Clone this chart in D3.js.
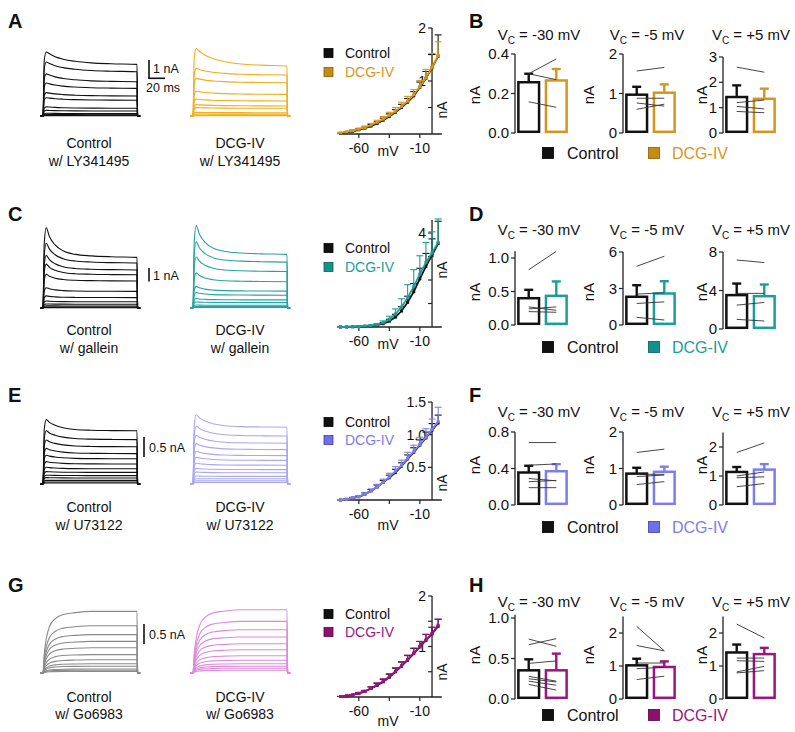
<!DOCTYPE html>
<html><head><meta charset="utf-8">
<script src="https://cdn.jsdelivr.net/npm/d3@7"></script>
<style>
body{margin:0;background:#fff}
svg{display:block}
text{font-family:"Liberation Sans",Arial,Helvetica,sans-serif;fill:#111}
</style>
</head><body>
<svg id="fig" width="795" height="732"></svg>
<script>
// ================= DATA =================
// Voltage steps (mV) of the I-V curves
const V = [-75,-70,-65,-60,-55,-50,-45,-40,-35,-30,-25,-20,-15,-10,-5,0,5];

// I-V means and SEM (nA)
const ivCtrlA = [0.01,0.03,0.05,0.08,0.11,0.15,0.20,0.26,0.33,0.41,0.50,0.60,0.72,0.88,1.05,1.25,1.47];
const ivCtrlErrA = [0.01,0.01,0.01,0.02,0.02,0.03,0.03,0.04,0.05,0.05,0.06,0.07,0.08,0.10,0.13,0.25,0.40];
const ivDcgA = [0.02,0.04,0.06,0.09,0.12,0.17,0.22,0.28,0.35,0.43,0.52,0.62,0.74,0.89,1.06,1.26,1.48];
const ivDcgErrA = [0.01,0.01,0.02,0.02,0.03,0.03,0.04,0.05,0.06,0.07,0.08,0.09,0.10,0.12,0.16,0.26,0.26];

const ivCtrlC = [0,0,0.01,0.02,0.03,0.05,0.08,0.14,0.25,0.42,0.68,1.05,1.50,2.05,2.58,3.05,3.55];
const ivCtrlErrC = [0,0,0,0.01,0.01,0.02,0.03,0.05,0.08,0.12,0.18,0.26,0.35,0.45,0.55,0.70,0.95];
const ivDcgC = [0,0.01,0.01,0.02,0.04,0.06,0.10,0.18,0.32,0.55,0.85,1.25,1.72,2.25,2.75,3.15,3.60];
const ivDcgErrC = [0,0,0.01,0.01,0.02,0.03,0.05,0.08,0.14,0.22,0.35,0.55,0.72,0.78,0.85,0.90,1.00];

const ivCtrlE = [0.0,0.01,0.03,0.05,0.09,0.14,0.20,0.27,0.34,0.42,0.52,0.63,0.73,0.84,0.95,1.07,1.18];
const ivCtrlErrE = [0,0.01,0.01,0.01,0.02,0.02,0.03,0.03,0.04,0.05,0.05,0.06,0.07,0.08,0.09,0.10,0.12];
const ivDcgE = [0.0,0.01,0.03,0.05,0.09,0.14,0.20,0.27,0.35,0.44,0.53,0.64,0.74,0.85,0.96,1.08,1.20];
const ivDcgErrE = [0,0.01,0.01,0.02,0.02,0.03,0.04,0.05,0.06,0.07,0.08,0.09,0.10,0.11,0.13,0.16,0.22];

const ivCtrlG = [0.01,0.02,0.04,0.07,0.11,0.17,0.23,0.30,0.39,0.50,0.61,0.73,0.86,0.99,1.12,1.25,1.40];
const ivCtrlErrG = [0,0.01,0.01,0.02,0.02,0.03,0.04,0.05,0.06,0.07,0.08,0.09,0.10,0.11,0.12,0.13,0.14];
const ivDcgG = [0.01,0.02,0.04,0.07,0.11,0.17,0.24,0.31,0.40,0.51,0.62,0.74,0.87,1.00,1.13,1.26,1.42];
const ivDcgErrG = [0,0.01,0.01,0.02,0.02,0.03,0.04,0.05,0.06,0.07,0.08,0.09,0.10,0.10,0.11,0.12,0.12];

// Current traces: steady-state and peak amplitude (nA) per voltage step
const trCtrlA_ss = [2.82,2.42,1.87,1.51,1.09,0.86,0.42,0.27,0.13,0.07,0.04,0.02];
const trCtrlA_pk = [3.50,2.95,2.30,1.80,1.28,1.00,0.50,0.31,0.15,0.08,0.04,0.02];
const trDcgA_ss  = [2.73,2.24,1.82,1.18,0.82,0.55,0.42,0.18,0.10,0.05,0.02];
const trDcgA_pk  = [3.68,2.60,2.05,1.35,0.92,0.62,0.46,0.20,0.11,0.05,0.02];
const trCtrlC_ss = [3.75,3.33,2.82,2.46,2.00,1.23,0.77,0.46,0.28,0.15,0.07,0.03];
const trCtrlC_pk = [5.95,4.80,3.90,3.25,2.50,1.50,0.90,0.52,0.30,0.16,0.07,0.03];
const trDcgC_ss  = [3.97,3.40,2.70,1.95,1.25,0.95,0.60,0.40,0.20,0.10,0.04];
const trDcgC_pk  = [6.10,4.90,3.80,2.60,1.60,1.15,0.70,0.45,0.22,0.10,0.04];
const trCtrlE_ss = [1.33,1.11,0.93,0.76,0.63,0.50,0.38,0.29,0.21,0.15,0.09,0.05,0.025];
const trCtrlE_pk = [1.61,1.33,1.10,0.89,0.72,0.56,0.42,0.31,0.22,0.16,0.09,0.05,0.025];
const trDcgE_ss  = [1.42,1.20,1.02,0.86,0.71,0.59,0.47,0.36,0.28,0.19,0.13,0.08,0.04];
const trDcgE_pk  = [1.73,1.45,1.22,1.01,0.82,0.67,0.52,0.39,0.30,0.20,0.13,0.08,0.04];
const trCtrlG_ss = [1.54,1.18,0.96,0.79,0.63,0.46,0.33,0.23,0.17,0.10,0.07,0.04];
const trDcgG_ss  = [1.58,1.29,1.08,0.90,0.73,0.58,0.43,0.32,0.23,0.17,0.12,0.07];
// Kinetics: time points (ms), activation and inactivation fractions
const tK = [0,1.5,4,8,15,25,40,60,85,117];
const actFast = [0,0.85,1,1,1,1,1,1,1,1];
const actSlowG = [0,0.30,0.55,0.75,0.88,0.95,0.98,1,1,1];
const inactA = [0,0.90,1,0.85,0.62,0.42,0.25,0.12,0.05,0];
const inactC = [0,0.70,1,0.70,0.42,0.22,0.10,0.05,0.02,0];
const inactE = [0,0.80,1,0.75,0.50,0.28,0.12,0.05,0.02,0];
const inactNone = [0,0,0,0,0,0,0,0,0,0];

// Bar graphs: holding potentials, means, SEM, paired cells
const vcLabels = ["-30","-5","+5"];
const barB_ctrl = [0.257,0.97,1.42], barB_ctrlErr = [0.043,0.20,0.46];
const barB_dcg  = [0.266,1.02,1.35], barB_dcgErr  = [0.058,0.21,0.40];
const pairsB = [[[0.30,0.375],[0.30,0.27],[0.158,0.13]],
                [[1.57,1.66],[0.88,0.88],[0.76,0.68],[0.60,0.73]],
                [[2.60,2.40],[1.20,1.30],[1.05,0.95],[0.85,0.80]]];
const barD_ctrl = [0.40,2.32,3.52], barD_ctrlErr = [0.125,0.95,1.20];
const barD_dcg  = [0.435,2.59,3.41], barD_dcgErr = [0.215,1.01,1.21];
const pairsD = [[[0.825,1.10],[0.27,0.22],[0.24,0.27],[0.20,0.19]],
                [[4.83,5.65],[2.54,2.65],[1.77,1.90],[0.63,0.41]],
                [[7.17,6.90],[3.70,3.70],[2.48,2.76],[1.00,0.83]]];
const barF_ctrl = [0.356,0.86,1.14], barF_ctrlErr = [0.074,0.16,0.17];
const barF_dcg  = [0.37,0.91,1.22], barF_dcgErr = [0.077,0.14,0.19];
const pairsF = [[[0.684,0.684],[0.436,0.45],[0.29,0.265],[0.255,0.27],[0.19,0.19]],
                [[1.44,1.53],[0.84,0.84],[0.78,0.82],[0.56,0.64]],
                [[1.81,2.14],[1.00,1.14],[0.94,0.97],[0.63,0.74]]];
const barH_ctrl = [0.354,1.02,1.41], barH_ctrlErr = [0.136,0.20,0.24];
const barH_dcg  = [0.354,0.97,1.36], barH_dcgErr = [0.206,0.17,0.19];
const pairsH = [[[0.67,0.745],[0.74,0.65],[0.44,0.47],[0.28,0.22],[0.25,0.21],[0.22,0.17],[0.18,0.11]],
                [[2.20,1.46],[1.62,1.46],[1.09,1.09],[0.92,0.96],[0.59,0.69]],
                [[2.27,1.85],[1.24,1.24],[1.16,1.14],[0.82,0.99],[0.79,0.86]]];

// Text
const drugs = ["w/ LY341495","w/ gallein","w/ U73122","w/ Go6983"];
const scaleLabels = ["1 nA","1 nA","0.5 nA","0.5 nA"];
const scaleValues = [1,1,0.5,0.5];

// ================= DRAW =================
const svg = d3.select("#fig");
const FONT = '"Liberation Sans",Arial,Helvetica,sans-serif';

const rows = [
 {L:"A", R:"B", letterY:28, base:116, lab:[148,166], sbar:{x:149,top:60,L:true,tx:153,ty:72},
  trCtrl:[trCtrlA_ss,trCtrlA_pk], trDcg:[trDcgA_ss,trDcgA_pk], act:actFast, inact:inactA, px:18.3,
  ctrlTrace:"#111", dcgTrace:"#f2ae1c", theme:"#d4961c", sq:"#c98a12", sqS:"#8a5c00",
  iv:{y0:134, px:53, top:2, ticks:[0.5,1,1.5,2], labels:[1,2], fmt:d=>d3.format("d")(d), leg:[53,72], nAy:110, mv:22,
      c:ivCtrlA, ce:ivCtrlErrA, d:ivDcgA, de:ivDcgErrA},
  bar:{titleY:40, bottoms:[133,133,133], topPx:[54,54,57], topVal:[0.4,2,3], axTop:[0.4,2,3],
       ticks:[[0,0.2,0.4],[0,1,2],[0,1,2,3]], fmt:[".1f","d","d"], legY:153, nAy:95,
       cm:barB_ctrl, ce:barB_ctrlErr, dm:barB_dcg, de:barB_dcgErr, pairs:pairsB}},
 {L:"C", R:"D", letterY:221, base:308, lab:[335,353], sbar:{x:149,top:268,L:false,tx:153,ty:280},
  trCtrl:[trCtrlC_ss,trCtrlC_pk], trDcg:[trDcgC_ss,trDcgC_pk], act:actFast, inact:inactC, px:13.5,
  ctrlTrace:"#111", dcgTrace:"#27a39f", theme:"#1a9e98", sq:"#12928c", sqS:"#0a5d59",
  iv:{y0:327, px:23.5, top:4.55, ticks:[1,2,3,4], labels:[4], fmt:d=>d3.format("d")(d), leg:[248,267], nAy:270, mv:22,
      c:ivCtrlC, ce:ivCtrlErrC, d:ivDcgC, de:ivDcgErrC},
  bar:{titleY:235, bottoms:[325,325,329], topPx:[258,252,252], topVal:[1,6,8], axTop:[1.1,6,8],
       ticks:[[0,0.5,1],[0,3,6],[0,4,8]], fmt:[".1f","d","d"], legY:347, nAy:292,
       cm:barD_ctrl, ce:barD_ctrlErr, dm:barD_dcg, de:barD_dcgErr, pairs:pairsD}},
 {L:"E", R:"F", letterY:402, base:484, lab:[512,530], sbar:{x:144,top:437,L:false,tx:149,ty:451},
  trCtrl:[trCtrlE_ss,trCtrlE_pk], trDcg:[trDcgE_ss,trDcgE_pk], act:actFast, inact:inactE, px:40,
  ctrlTrace:"#111", dcgTrace:"#aba7f3", theme:"#7d7deb", sq:"#6f6fec", sqS:"#3d3da8",
  iv:{y0:500, px:65.3, top:1.5, ticks:[0.5,1,1.5], labels:[0.5,1,1.5], fmt:d=>d3.format(".1f")(d), leg:[422,440], nAy:483, mv:30,
      c:ivCtrlE, ce:ivCtrlErrE, d:ivDcgE, de:ivDcgErrE},
  bar:{titleY:417, bottoms:[505,505,505], topPx:[432,432,447], topVal:[0.8,2,2], axTop:[0.8,2,2.5],
       ticks:[[0,0.4,0.8],[0,1,2],[0,1,2]], fmt:[".1f","d","d"], legY:527, nAy:465,
       cm:barF_ctrl, ce:barF_ctrlErr, dm:barF_dcg, de:barF_dcgErr, pairs:pairsF}},
 {L:"G", R:"H", letterY:592, base:673, lab:[702,719], sbar:{x:144,top:624,L:false,tx:149,ty:638},
  trCtrl:[trCtrlG_ss,trCtrlG_ss], trDcg:[trDcgG_ss,trDcgG_ss], act:actSlowG, inact:inactNone, px:40,
  ctrlTrace:"#8a8a8a", dcgTrace:"#dd8ad7", theme:"#9b1580", sq:"#8e0f72", sqS:"#55063f",
  iv:{y0:697, px:50.5, top:2, ticks:[0.5,1,1.5,2], labels:[1,2], fmt:d=>d3.format("d")(d), leg:[614,632], nAy:672, mv:29,
      c:ivCtrlG, ce:ivCtrlErrG, d:ivDcgG, de:ivDcgErrG},
  bar:{titleY:607, bottoms:[699,699,699], topPx:[618,633,633], topVal:[1,2,2], axTop:[1.04,2.5,2.5],
       ticks:[[0,0.5,1],[0,1,2],[0,1,2]], fmt:[".1f","d","d"], legY:715, nAy:655,
       cm:barH_ctrl, ce:barH_ctrlErr, dm:barH_dcg, de:barH_dcgErr, pairs:pairsH}}
];

function drawTraces(g, x0, base, px, ss, pk, act, inact, color) {
  const x = d3.scaleLinear().domain([0,117]).range([x0, x0+94]);
  const y = d3.scaleLinear().domain([0,1]).range([base, base-px]);
  const line = d3.line().x(d=>x(d[0])).y(d=>y(d[1])).curve(d3.curveMonotoneX);
  ss.forEach((s,i)=>{
    const p = pk[i];
    const pts = [[-3,0]].concat(tK.map((t,k)=>[t, k===0?0:s*act[k]+(p-s)*inact[k]]), [[117.8,0],[121,0]]);
    g.append("path").attr("d",line(pts)).attr("fill","none").attr("stroke",color).attr("stroke-width",1.1);
  });
  return {x,y};
}

function drawIV(g, r) {
  const c = r.iv;
  const x = d3.scaleLinear().domain([-75,8]).range([340.5, 441.8]);
  const y = d3.scaleLinear().domain([0,1]).range([c.y0, c.y0-c.px]);
  // axes
  g.append("line").attr("x1",x(-75)).attr("x2",x(8)).attr("y1",y(0)).attr("y2",y(0)).attr("stroke","#222").attr("stroke-width",1.3);
  [-60,-35,-10].forEach(v=>g.append("line").attr("x1",x(v)).attr("x2",x(v)).attr("y1",y(0)).attr("y2",y(0)+4).attr("stroke","#222").attr("stroke-width",1.2));
  [-60,-10].forEach(v=>g.append("text").attr("x",x(v)).attr("y",y(0)+19).attr("text-anchor","middle").attr("font-size",14).text(v));
  g.append("text").attr("x",388).attr("y",y(0)+c.mv).attr("text-anchor","middle").attr("font-size",14).text("mV");
  g.append("line").attr("x1",x(0)).attr("x2",x(0)).attr("y1",y(0)).attr("y2",y(c.top)).attr("stroke","#222").attr("stroke-width",1.3);
  c.ticks.forEach(t=>g.append("line").attr("x1",x(0)-4).attr("x2",x(0)).attr("y1",y(t)).attr("y2",y(t)).attr("stroke","#222").attr("stroke-width",1.2));
  c.labels.forEach(t=>g.append("text").attr("x",x(0)-6).attr("y",y(t)+5).attr("text-anchor","end").attr("font-size",14).text(c.fmt(t)));
  g.append("text").attr("transform",`translate(${x(0)+15},${c.nAy}) rotate(-90)`).attr("text-anchor","middle").attr("font-size",14).text("nA");
  // series
  const series = [[c.c,c.ce,"#111"],[c.d,c.de,r.theme]];
  series.forEach(([m,e,col])=>{
    V.forEach((v,i)=>{
      g.append("line").attr("x1",x(v)).attr("x2",x(v)).attr("y1",y(m[i])).attr("y2",y(m[i]+e[i])).attr("stroke",col).attr("stroke-width",1.1);
      g.append("line").attr("x1",x(v)-3.5).attr("x2",x(v)+3.5).attr("y1",y(m[i]+e[i])).attr("y2",y(m[i]+e[i])).attr("stroke",col).attr("stroke-width",1.1);
    });
    g.append("path").attr("d",d3.line().x((d,i)=>x(V[i])).y(d=>y(d))(m)).attr("fill","none").attr("stroke",col).attr("stroke-width",1.8);
    V.forEach((v,i)=>g.append("rect").attr("x",x(v)-1.5).attr("y",y(m[i])-1.5).attr("width",3).attr("height",3).attr("fill",col));
  });
  // legend
  [["Control","#111","#000"],["DCG-IV",r.sq,r.sqS]].forEach(([t,f,s],i)=>{
    g.append("rect").attr("x",324).attr("y",c.leg[i]-4.5).attr("width",9).attr("height",9).attr("fill",f).attr("stroke",s).attr("stroke-width",0.8);
    g.append("text").attr("x",345).attr("y",c.leg[i]+5).attr("font-size",14).style("fill",i?r.theme:"#111").text(t);
  });
}

function drawBars(g, r) {
  const b = r.bar;
  const axX = [515,623,723], nAx=[475,589,702], titleX=[539,647,751];
  for (let k=0;k<3;k++) {
    const y = d3.scaleLinear().domain([0,b.topVal[k]]).range([b.bottoms[k], b.topPx[k]]);
    const x = d3.scaleBand().domain(["Control","DCG-IV"]).range([axX[k]+2, axX[k]+53]).paddingInner(0.25).paddingOuter(0.05);
    const gg = g.append("g");
    // title
    const tt = gg.append("text").attr("x",titleX[k]).attr("y",b.titleY).attr("text-anchor","middle").attr("font-size",15);
    tt.append("tspan").text("V");
    tt.append("tspan").attr("dy",4).attr("font-size",10).text("C");
    tt.append("tspan").attr("dy",-4).text(" = "+vcLabels[k]+" mV");
    // axis
    gg.append("line").attr("x1",axX[k]).attr("x2",axX[k]).attr("y1",y(0)).attr("y2",y(b.axTop[k])).attr("stroke","#222").attr("stroke-width",1.3);
    b.ticks[k].forEach(t=>{
      gg.append("line").attr("x1",axX[k]-4).attr("x2",axX[k]).attr("y1",y(t)).attr("y2",y(t)).attr("stroke","#222").attr("stroke-width",1.2);
      gg.append("text").attr("x",axX[k]-6).attr("y",y(t)+5).attr("text-anchor","end").attr("font-size",15).text(d3.format(b.fmt[k])(t));
    });
    gg.append("text").attr("transform",`translate(${nAx[k]+5},${b.nAy}) rotate(-90)`).attr("text-anchor","middle").attr("font-size",15).text("nA");
    // bars
    [["Control",b.cm[k],b.ce[k],"#111"],["DCG-IV",b.dm[k],b.de[k],r.theme]].forEach(([cat,m,e,col])=>{
      const cx = x(cat)+x.bandwidth()/2;
      gg.append("line").attr("x1",cx).attr("x2",cx).attr("y1",y(m)).attr("y2",y(m+e)).attr("stroke",col).attr("stroke-width",2.4);
      gg.append("line").attr("x1",cx-4.5).attr("x2",cx+4.5).attr("y1",y(m+e)).attr("y2",y(m+e)).attr("stroke",col).attr("stroke-width",2.4);
      gg.append("rect").attr("x",x(cat)).attr("y",y(m)).attr("width",x.bandwidth()).attr("height",y(0)-y(m)-1.2)
        .attr("fill","none").attr("stroke",col).attr("stroke-width",2.5);
    });
    // paired lines
    const c1 = x("Control")+x.bandwidth()/2, c2 = x("DCG-IV")+x.bandwidth()/2;
    b.pairs[k].forEach(p=>gg.append("line").attr("x1",c1).attr("x2",c2).attr("y1",y(p[0])).attr("y2",y(p[1])).attr("stroke","#333").attr("stroke-width",0.9));
  }
  // legend
  [["Control","#111","#000",548,567],["DCG-IV",r.sq,r.sqS,654,672]].forEach(([t,f,s,sx,tx],i)=>{
    g.append("rect").attr("x",sx-5.5).attr("y",b.legY-5.5).attr("width",11).attr("height",11).attr("fill",f).attr("stroke",s).attr("stroke-width",0.8);
    g.append("text").attr("x",tx).attr("y",b.legY+6).attr("font-size",16).style("fill",i?r.theme:"#111").text(t);
  });
}

rows.forEach((r,ri)=>{
  const g = svg.append("g");
  g.append("text").attr("x",8).attr("y",r.letterY).attr("font-size",20).attr("font-weight","bold").text(r.L);
  g.append("text").attr("x",469).attr("y",r.letterY).attr("font-size",20).attr("font-weight","bold").text(r.R);
  // traces
  const tc = drawTraces(g, 43, r.base, r.px, r.trCtrl[0], r.trCtrl[1], r.act, r.inact, r.ctrlTrace);
  drawTraces(g, 193, r.base, r.px, r.trDcg[0], r.trDcg[1], r.act, r.inact, r.dcgTrace);
  // trace labels
  [["Control",89],["DCG-IV",240]].forEach(([t,cx])=>{
    g.append("text").attr("x",cx).attr("y",r.lab[0]).attr("text-anchor","middle").attr("font-size",14).text(t);
    g.append("text").attr("x",cx).attr("y",r.lab[1]).attr("text-anchor","middle").attr("font-size",14).text(drugs[ri]);
  });
  // scale bar
  const sb = r.sbar, len = tc.y(0)-tc.y(scaleValues[ri]);
  g.append("line").attr("x1",sb.x).attr("x2",sb.x).attr("y1",sb.top).attr("y2",sb.top+len).attr("stroke","#111").attr("stroke-width",1.6);
  g.append("text").attr("x",sb.tx).attr("y",sb.L? sb.top+13 : sb.top+len/2+5).attr("font-size",12.5)
    .attr("font-family",'"Liberation Sans Narrow","Arial Narrow",'+FONT).text(scaleLabels[ri]);
  if (sb.L) {
    const w = tc.x(20)-tc.x(0);
    g.append("line").attr("x1",sb.x-0.8).attr("x2",sb.x+w).attr("y1",sb.top+len).attr("y2",sb.top+len).attr("stroke","#111").attr("stroke-width",1.6);
    g.append("text").attr("x",sb.x-3).attr("y",sb.top+len+14).attr("font-size",12.5)
      .attr("font-family",'"Liberation Sans Narrow","Arial Narrow",'+FONT).text("20 ms");
  }
  drawIV(g, r);
  drawBars(g, r);
});
</script>
</body></html>
